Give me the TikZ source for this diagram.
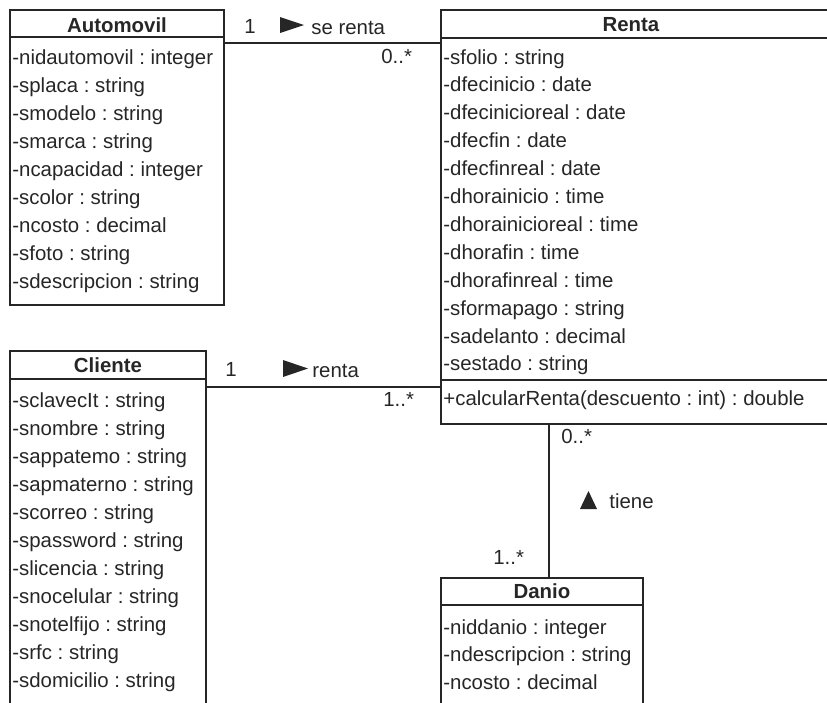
\documentclass[tikz,border=0pt]{standalone}
\usepackage{fontspec}
\setmainfont{Liberation Sans}
\usetikzlibrary{fit}
\definecolor{ink}{HTML}{262626}
\frenchspacing
\begin{document}
\begin{tikzpicture}[x=0.5pt,y=-0.5pt,
  classbox/.style={draw=ink, line width=0.65pt, inner sep=0pt},
  sep/.style={draw=ink, line width=0.65pt},
  assoc/.style={draw=ink, line width=0.65pt},
  txt/.style={inner sep=0pt, text=ink, font=\fontsize{10.2pt}{12pt}\selectfont\frenchspacing},
  attr/.style={txt, anchor=base west},
  title/.style={txt, anchor=base, font=\fontsize{10.2pt}{12pt}\selectfont\bfseries},
  lbl/.style={txt, anchor=base west},
  dirtip/.style={fill=ink, draw=none}
]
\useasboundingbox (0,0) rectangle (827,703);
\clip (0,0) rectangle (827,703);

% class boxes
\node[classbox, fit={(10,10) (224,305)}] (auto) {};
\node[classbox, fit={(441,10) (860,424)}] (renta) {};
\node[classbox, fit={(10,351) (206,730)}] (cliente) {};
\node[classbox, fit={(441,578) (643,730)}] (danio) {};

% compartment separators
\coordinate (hA) at (0,37);
\coordinate (hR) at (0,38);
\coordinate (mR) at (0,380);
\coordinate (hC) at (0,379);
\coordinate (hD) at (0,605);
\draw[sep] (auto.west |- hA) -- (auto.east |- hA);
\draw[sep] (renta.west |- hR) -- (renta.east |- hR);
\draw[sep] (renta.west |- mR) -- (renta.east |- mR);
\draw[sep] (cliente.west |- hC) -- (cliente.east |- hC);
\draw[sep] (danio.west |- hD) -- (danio.east |- hD);

% class names
\node[title] (autoT) at (117,32) {Automovil};
\node[title] (rentaT) at (631,31) {Renta};
\node[title] (clienteT) at (108,372) {Cliente};
\node[title] (danioT) at (542,598) {Danio};

% attributes
\foreach \t [count=\i] in {-nidautomovil : integer, -splaca : string, -smodelo : string,
  -smarca : string, -ncapacidad : integer, -scolor : string, -ncosto : decimal,
  -sfoto : string, -sdescripcion : string}
  \node[attr] (autoA\i) at (12,{64+28.1*(\i-1)}) {\t};

\foreach \t [count=\i] in {-sfolio : string, -dfecinicio : date, -dfecinicioreal : date,
  -dfecfin : date, -dfecfinreal : date, -dhorainicio : time, -dhorainicioreal : time,
  -dhorafin : time, -dhorafinreal : time, -sformapago : string, -sadelanto : decimal,
  -sestado : string}
  \node[attr] (rentaA\i) at (443,{64+27.9*(\i-1)}) {\t};
\node[attr] (rentaM) at (443,405) {+calcularRenta(descuento : int) : double};

\foreach \t [count=\i] in {-sclavecIt : string, -snombre : string, -sappatemo : string,
  -sapmaterno : string, -scorreo : string, -spassword : string, -slicencia : string,
  -snocelular : string, -snotelfijo : string, -srfc : string, -sdomicilio : string}
  \node[attr] (clienteA\i) at (12,{407+28*(\i-1)}) {\t};

\foreach \t [count=\i] in {-niddanio : integer, -ndescripcion : string, -ncosto : decimal}
  \node[attr] (danioA\i) at (443,{634+27.5*(\i-1)}) {\t};

% associations
\coordinate (yAR) at (0,43);
\coordinate (yCR) at (0,387);
\coordinate (xRD) at (549,0);
\draw[assoc] (auto.east |- yAR) -- (renta.west |- yAR);
\draw[assoc] (cliente.east |- yCR) -- (renta.west |- yCR);
\draw[assoc] (renta.south -| xRD) -- (danio.north -| xRD);

% Automovil -- Renta
\node[lbl] (m1) at (244,33) {1};
\fill[dirtip] (280,17) -- (304,25) -- (280,33) -- cycle;
\node[lbl] (n1) at (311,34) {se renta};
\node[lbl] (m2) at (381,63) {0..*};

% Cliente -- Renta
\node[lbl] (m3) at (225,376) {1};
\fill[dirtip] (283,360) -- (308,368.5) -- (283,377) -- cycle;
\node[lbl] (n2) at (312,377) {renta};
\node[lbl] (m4) at (383,406) {1..*};

% Renta -- Danio
\node[lbl] (m5) at (561,443) {0..*};
\fill[dirtip] (580,509) -- (588.5,491) -- (597,509) -- cycle;
\node[lbl] (n3) at (609,508) {tiene};
\node[lbl] (m6) at (493,564) {1..*};
\end{tikzpicture}
\end{document}
